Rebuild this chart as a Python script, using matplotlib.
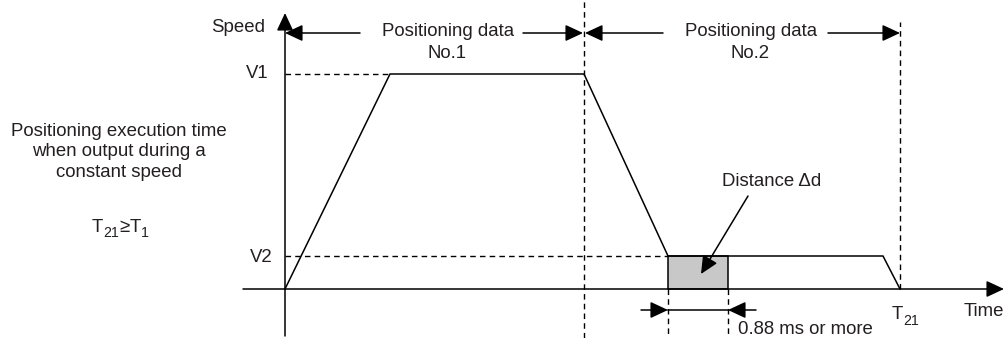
import matplotlib
matplotlib.use("Agg")
import matplotlib.pyplot as plt
from matplotlib.patches import Rectangle

plt.rcParams['font.family'] = ['Liberation Sans', 'DejaVu Sans']
plt.rcParams['text.color'] = '#231f20'

# --- data (time / speed units, origin at the axes corner) -------------------
profile_t = [0, 105, 299, 383, 598, 615]
profile_v = [0, 215, 215, 33, 33, 0]
V1, V2 = 215, 33
t_no1_end = 299          # end of positioning data No.1
t_21 = 615               # T21
dd_start, dd_end = 383, 443   # distance delta d window
# ---------------------------------------------------------------------------

fig = plt.figure(figsize=(10.04, 3.38), dpi=100)
ax = fig.add_axes([0, 0, 1, 1])
ax.set_xlim(-285, 719)
ax.set_ylim(-49, 289)
ax.axis('off')

fs = 13.4
fs_sub = 10.2
lw = 1.1
dash = dict(color='black', lw=1.0, ls=(0, (4, 3)))
head = dict(arrowstyle='-|>,head_length=0.9,head_width=0.42', color='black',
            lw=lw, shrinkA=0, shrinkB=0, mutation_scale=12)

# axes
ax.annotate('', xy=(0, 276), xytext=(0, -47), arrowprops=head)
ax.annotate('', xy=(719, 0), xytext=(-42, 0), arrowprops=head)

# dashed guides
ax.plot([0, profile_t[1]], [V1, V1], **dash)
ax.plot([0, dd_start], [V2, V2], **dash)
ax.plot([t_no1_end, t_no1_end], [-49, 289], **dash)
ax.plot([t_21, t_21], [0, 267], **dash)
ax.plot([dd_start, dd_start], [0, -49], **dash)
ax.plot([dd_end, dd_end], [0, -49], **dash)

# shaded distance
ax.add_patch(Rectangle((dd_start, 0), dd_end - dd_start, V2,
                       facecolor='#c8c8c8', edgecolor='black', lw=lw, zorder=2))

# speed profile
ax.plot(profile_t, profile_v, color='black', lw=lw, zorder=3)

# top range arrows
ya = 256
ax.annotate('', xy=(0, ya), xytext=(75, ya), arrowprops=head)
ax.annotate('', xy=(t_no1_end - 1, ya), xytext=(238, ya), arrowprops=head)
ax.annotate('', xy=(t_no1_end + 1, ya), xytext=(378, ya), arrowprops=head)
ax.annotate('', xy=(t_21, ya), xytext=(543, ya), arrowprops=head)
ax.text(163, 258, 'Positioning data', fontsize=fs, ha='center', va='center')
ax.text(162, 236, 'No.1', fontsize=fs, ha='center', va='center')
ax.text(466, 258, 'Positioning data', fontsize=fs, ha='center', va='center')
ax.text(465, 236, 'No.2', fontsize=fs, ha='center', va='center')

# axis labels
ax.text(-20, 261, 'Speed', fontsize=fs, ha='right', va='center')
ax.text(-16, V1, 'V1', fontsize=fs, ha='right', va='center')
ax.text(-12, V2 - 2, 'V2', fontsize=fs, ha='right', va='center')
ax.text(679, -23, 'Time', fontsize=fs, ha='left', va='center')

# T21 label with subscript
ax.text(607, -30, 'T', fontsize=fs, ha='left', va='baseline')
ax.text(618, -36, '21', fontsize=fs_sub, ha='left', va='baseline')

# distance annotation
ax.text(487, 107, 'Distance Δd', fontsize=fs, ha='center', va='center')
ax.annotate('', xy=(416, 15), xytext=(463, 93), arrowprops=head, zorder=4)

# 0.88 ms
yb = -21
ax.annotate('', xy=(dd_start, yb), xytext=(356, yb), arrowprops=head)
ax.annotate('', xy=(dd_end, yb), xytext=(471, yb), arrowprops=head)
ax.plot([dd_start, dd_end], [yb, yb], color='black', lw=lw)
ax.text(453, -40, '0.88 ms or more', fontsize=fs, ha='left', va='center')

# left note
ax.text(-166, 137, 'Positioning execution time\nwhen output during a\nconstant speed',
        fontsize=fs, ha='center', va='center', linespacing=1.25)
ax.text(-193, 57, 'T', fontsize=fs, ha='left', va='baseline')
ax.text(-181.5, 52, '21', fontsize=fs_sub, ha='left', va='baseline')
ax.text(-166, 57, '≥', fontsize=fs, ha='left', va='baseline')
ax.text(-155.5, 57, 'T', fontsize=fs, ha='left', va='baseline')
ax.text(-144, 52, '1', fontsize=fs_sub, ha='left', va='baseline')

fig.savefig('out.png', dpi=100)
